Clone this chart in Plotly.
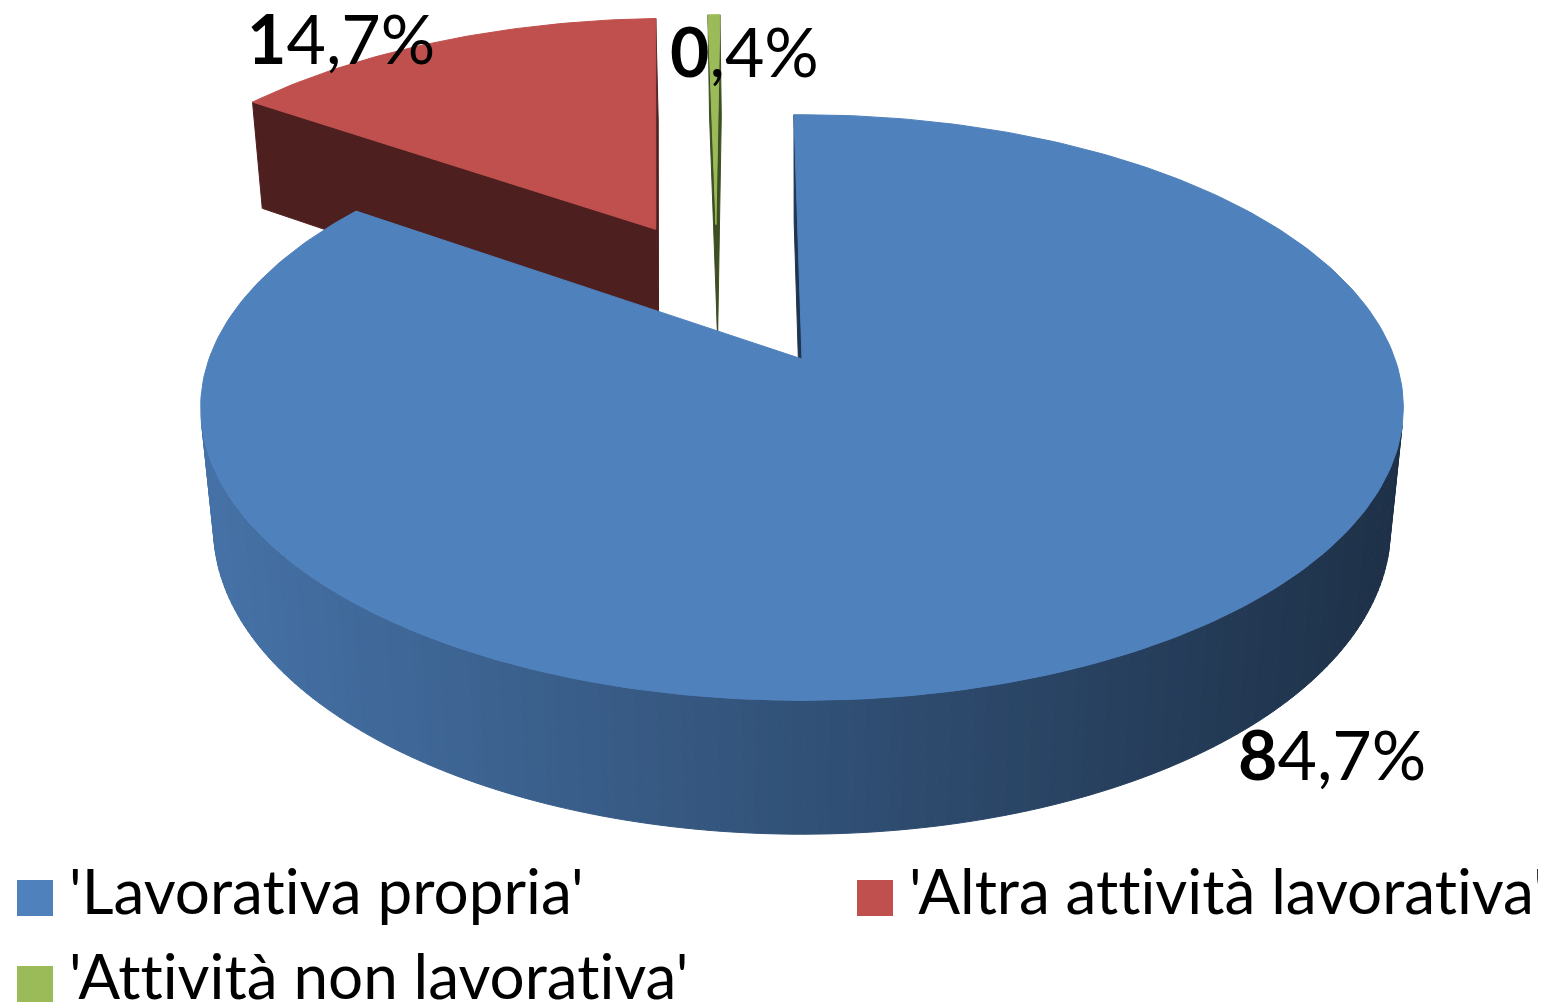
import numpy as np
import plotly.graph_objects as go

# ---------------- data ----------------
categories = ["'Lavorativa propria'", "'Altra attività lavorativa'", "'Attività non lavorativa'"]
values = [84.7, 14.7, 0.4]
value_labels = ["<b>8</b>4,7%", "<b>1</b>4,7%", "<b>0</b>,4%"]

# ---------------- style ----------------
top_colors = ["#4F81BD", "#C0504D", "#9BBB59"]
radial_colors = ["#1F3450", "#4E1F1F", "#3D4F22"]
explode = [0.32, 0.24, 0.23]
START = -0.9  # degrees, first slice start (clockwise from 12 o'clock)
label_pos = [(1324, 745), (333, 29), (736, 42)]
legend_square = [(27, 890), (867, 890), (27, 976)]
legend_text = [(58.5, 882), (899, 882), (58.5, 967)]
FONT = "Lato, sans-serif"
LABEL_SIZE = 68
LEGEND_SIZE = 62
NOLIG = '<span style="font-variant-ligatures:none;font-feature-settings:\'liga\' 0">{}</span>'

W, H = 1546, 1002
PHI = np.radians(28.7)
DIST = 5.29
FOC = 3137.0
THICK = 0.234
CX, CY = 794.0, 351.0


def dirv(deg):
    r = np.radians(deg)
    return np.array([np.sin(r), np.cos(r)])


total = sum(values)
bounds = START + np.concatenate([[0.0], np.cumsum(values)]) / total * 360.0
mids = (bounds[:-1] + bounds[1:]) / 2
centers = [e * dirv(m) for e, m in zip(explode, mids)]
TX, TY = centers[0]
cam = np.array([TX, TY - DIST * np.cos(PHI), DIST * np.sin(PHI)])


def project(pts):
    pts = np.asarray(pts, dtype=float)
    x = pts[:, 0] - TX
    y = pts[:, 1] - TY
    z = pts[:, 2]
    depth = DIST + y * np.cos(PHI) - z * np.sin(PHI)
    vert = y * np.sin(PHI) + z * np.cos(PHI)
    return CX + FOC * x / depth, CY - FOC * vert / depth


def poly_trace(pts, color):
    sx, sy = project(pts)
    sx = np.append(sx, sx[0])
    sy = np.append(sy, sy[0])
    return go.Scatter(x=sx, y=sy, mode="lines", fill="toself", fillcolor=color,
                      line=dict(color=color, width=1), hoverinfo="skip",
                      showlegend=False)


def shade(hex_color, k):
    h = hex_color.lstrip("#")
    r, g, b = (int(h[i:i + 2], 16) for i in (0, 2, 4))
    return "rgb({},{},{})".format(int(r * k), int(g * k), int(b * k))


def visible(normal2, point3):
    n = np.array([normal2[0], normal2[1], 0.0])
    return np.dot(n, cam - point3) > -1e-9


fig = go.Figure()

order = sorted(range(len(values)), key=lambda i: -centers[i][1])
for i in order:
    a0, a1 = bounds[i], bounds[i + 1]
    c = centers[i]
    n = max(2, int(np.ceil((a1 - a0) / 1.0)) + 1)
    th = np.linspace(a0, a1, n)
    rim = np.array([c + dirv(t) for t in th])

    # radial faces
    for ang, nang in ((a0, a0 - 90), (a1, a1 + 90)):
        p = c + dirv(ang)
        midp = np.array([(c[0] + p[0]) / 2, (c[1] + p[1]) / 2, -THICK / 2])
        if visible(dirv(nang), midp):
            quad = [[c[0], c[1], 0], [p[0], p[1], 0], [p[0], p[1], -THICK], [c[0], c[1], -THICK]]
            fig.add_trace(poly_trace(quad, radial_colors[i]))

    # outer curved wall, in vertical strips
    for j in range(n - 1):
        tm = (th[j] + th[j + 1]) / 2
        pm = c + dirv(tm)
        if not visible(dirv(tm), np.array([pm[0], pm[1], -THICK / 2])):
            continue
        sxm, _ = project([[pm[0], pm[1], 0]])
        k = float(np.clip(0.87 - 0.00042 * (sxm[0] - 230), 0.38, 0.9))
        q = [[rim[j][0], rim[j][1], 0], [rim[j + 1][0], rim[j + 1][1], 0],
             [rim[j + 1][0], rim[j + 1][1], -THICK], [rim[j][0], rim[j][1], -THICK]]
        fig.add_trace(poly_trace(q, shade(top_colors[i], k)))

    # top face
    top = [[c[0], c[1], 0]] + [[p[0], p[1], 0] for p in rim]
    fig.add_trace(poly_trace(top, top_colors[i]))

# data labels
for lab, (lx, ly) in zip(value_labels, label_pos):
    fig.add_annotation(x=lx, y=ly, text=lab, showarrow=False, xanchor="center", yanchor="middle",
                       font=dict(family=FONT, size=LABEL_SIZE, color="black"))

# legend
fig.add_trace(go.Scatter(x=[p[0] for p in legend_square], y=[p[1] for p in legend_square], mode="markers",
                         marker=dict(symbol="square", size=36, color=top_colors, line=dict(width=0)),
                         hoverinfo="skip", showlegend=False))
for cat, (tx, ty) in zip(categories, legend_text):
    fig.add_annotation(x=tx, y=ty, text=NOLIG.format(cat), showarrow=False,
                       xanchor="left", yanchor="middle",
                       font=dict(family=FONT, size=LEGEND_SIZE, color="black"))

fig.update_layout(
    width=W, height=H, margin=dict(l=0, r=0, t=0, b=0),
    paper_bgcolor="white", plot_bgcolor="white", showlegend=False,
    xaxis=dict(range=[0, W], visible=False, fixedrange=True),
    yaxis=dict(range=[H, 0], visible=False, fixedrange=True),
)
fig.write_html("out.html")
